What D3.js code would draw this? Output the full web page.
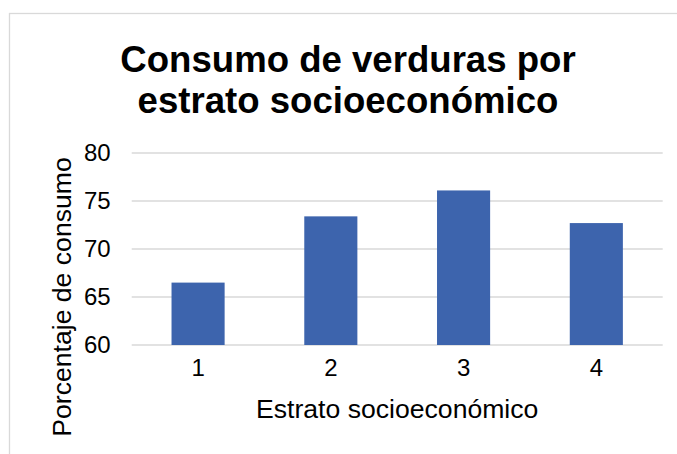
<!DOCTYPE html>
<html>
<head>
<meta charset="utf-8">
<script src="https://cdn.jsdelivr.net/npm/d3@7"></script>
<style>
  body { margin: 0; background: #fff; }
  text { font-family: "Liberation Sans", Arial, sans-serif; fill: #000; }
</style>
</head>
<body>
<div id="chart"></div>
<script>
// data
var estratos = ["1", "2", "3", "4"];
var consumo = [66.5, 73.4, 76.1, 72.7];
var yTicks = [60, 65, 70, 75, 80];
var titleLines = ["Consumo de verduras por", "estrato socioeconómico"];

var W = 677, H = 454;
var plot = {left: 131.7, right: 662.7, top: 153, bottom: 345};

var svg = d3.select("#chart")
  .append("svg")
  .attr("width", W)
  .attr("height", H);

// chart area border (runs off the right and bottom of the picture)
svg.append("rect")
  .attr("x", 9.5).attr("y", 13.5)
  .attr("width", 700).attr("height", 500)
  .attr("fill", "#fff")
  .attr("stroke", "#d9d9d9")
  .attr("stroke-width", 1.3);

var x = d3.scaleBand()
  .domain(estratos)
  .range([plot.left, plot.right])
  .paddingInner(0.6)
  .paddingOuter(0.3);

var y = d3.scaleLinear()
  .domain([60, 80])
  .range([plot.bottom, plot.top]);

// gridlines
svg.append("g")
  .selectAll("line")
  .data(yTicks)
  .enter()
  .append("line")
  .attr("x1", plot.left)
  .attr("x2", plot.right)
  .attr("y1", function(d){ return y(d); })
  .attr("y2", function(d){ return y(d); })
  .attr("stroke", "#d9d9d9")
  .attr("stroke-width", 1.5);

// bars
svg.append("g")
  .selectAll("rect")
  .data(consumo)
  .enter()
  .append("rect")
  .attr("x", function(d, i){ return x(estratos[i]); })
  .attr("width", x.bandwidth())
  .attr("y", function(d){ return y(d); })
  .attr("height", function(d){ return y(60) - y(d); })
  .attr("fill", "#3d64ad");

// y axis labels
var yAxis = svg.append("g")
  .attr("transform", "translate(" + plot.left + ",0)")
  .call(d3.axisLeft(y).tickValues(yTicks).tickSize(0).tickPadding(21));
yAxis.select(".domain").remove();
yAxis.selectAll("text")
  .attr("font-size", 24)
  .attr("font-family", "Liberation Sans, Arial, sans-serif")
  .attr("fill", "#000");

// x axis labels
var xAxis = svg.append("g")
  .attr("transform", "translate(0," + plot.bottom + ")")
  .call(d3.axisBottom(x).tickSize(0).tickPadding(14));
xAxis.select(".domain").remove();
xAxis.selectAll("text")
  .attr("font-size", 24)
  .attr("font-family", "Liberation Sans, Arial, sans-serif")
  .attr("fill", "#000");

// title
svg.append("g")
  .selectAll("text")
  .data(titleLines)
  .enter()
  .append("text")
  .attr("x", 348)
  .attr("y", function(d, i){ return 72 + i * 41; })
  .attr("text-anchor", "middle")
  .attr("font-size", 36.6)
  .attr("font-weight", "bold")
  .text(function(d){ return d; });

// axis titles
svg.append("text")
  .attr("x", (plot.left + plot.right) / 2)
  .attr("y", 418)
  .attr("text-anchor", "middle")
  .attr("font-size", 26.6)
  .text("Estrato socioeconómico");

svg.append("text")
  .attr("transform", "translate(71,297) rotate(-90)")
  .attr("text-anchor", "middle")
  .attr("font-size", 26.6)
  .text("Porcentaje de consumo");
</script>
</body>
</html>
